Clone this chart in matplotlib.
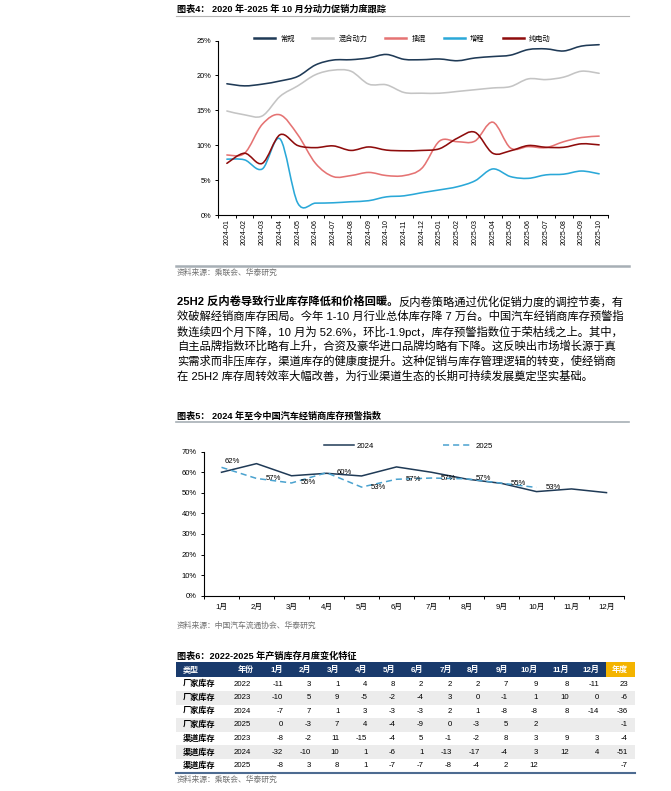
import numpy as np
import matplotlib
matplotlib.use("Agg")
import matplotlib.pyplot as plt
from matplotlib.path import Path
from matplotlib.patches import PathPatch, Rectangle
from matplotlib.lines import Line2D
from matplotlib.ticker import FuncFormatter

plt.rcParams['font.family'] = ['Liberation Sans', 'Noto Sans CJK SC']
plt.rcParams['axes.unicode_minus'] = False

W, H = 671, 791

# ---------------------------------------------------------------------------
# Data
# ---------------------------------------------------------------------------
months_1 = ["2024-01", "2024-02", "2024-03", "2024-04", "2024-05", "2024-06",
            "2024-07", "2024-08", "2024-09", "2024-10", "2024-11", "2024-12",
            "2025-01", "2025-02", "2025-03", "2025-04", "2025-05", "2025-06",
            "2025-07", "2025-08", "2025-09", "2025-10"]
conventional = [18.8, 18.5, 18.75, 19.2, 19.85, 21.5, 22.2, 22.25, 22.5, 23.0, 22.3,
                22.25, 22.35, 22.1, 22.5, 22.7, 22.9, 23.7, 23.8, 23.5, 24.2, 24.4]
hybrid = [14.9, 14.35, 14.2, 17.0, 18.5, 20.1, 20.75, 20.6, 18.75, 18.65, 17.55,
          17.45, 17.45, 17.7, 17.95, 18.2, 18.4, 19.5, 19.4, 19.75, 20.6, 20.3]
phev = [8.6, 8.85, 13.0, 14.35, 11.5, 7.4, 5.5, 5.65, 6.1, 5.65, 5.65,
        6.7, 10.6, 10.5, 10.6, 13.3, 9.6, 9.8, 9.65, 10.5, 11.1, 11.3]
erev = [8.0, 7.9, 6.6, 10.9, 1.7, 1.7, 1.75, 1.9, 2.05, 2.6, 2.75,
        3.2, 3.6, 4.05, 4.9, 6.6, 5.5, 5.25, 5.75, 5.85, 6.3, 5.9]
bev = [7.4, 8.85, 7.4, 11.5, 9.95, 9.65, 9.9, 9.25, 9.75, 9.3, 9.2,
       9.25, 9.5, 11.0, 11.85, 8.85, 9.2, 9.95, 9.7, 9.7, 10.2, 10.05]
series_1 = ["常规", "混合动力", "插混", "增程", "纯电动"]

months_2 = ["1月", "2月", "3月", "4月", "5月", "6月", "7月", "8月", "9月", "10月", "11月", "12月"]
index_2024 = [60.0, 64.2, 58.3, 59.5, 58.2, 62.6, 60.0, 56.7, 54.6, 50.6, 51.9, 50.1]
index_2025 = [62.4, 57.0, 54.8, 59.8, 52.8, 56.6, 57.2, 56.8, 54.7, 52.6]

table_header = ["类型", "年份", "1月", "2月", "3月", "4月", "5月", "6月", "7月",
                "8月", "9月", "10月", "11月", "12月", "年度"]
row_types = ["厂家库存", "厂家库存", "厂家库存", "厂家库存", "渠道库存", "渠道库存", "渠道库存"]
row_years = ["2022", "2023", "2024", "2025", "2023", "2024", "2025"]
row_values = [
    [-11, 3, 1, 4, 8, 2, 2, 2, 7, 9, 8, -11, 23],
    [-10, 5, 9, -5, -2, -4, 3, 0, -1, 1, 10, 0, -6],
    [-7, 7, 1, 3, -3, -3, 2, 1, -8, -8, 8, -14, -36],
    [0, -3, 7, 4, -4, -9, 0, -3, 5, 2, None, None, -1],
    [-8, -2, 11, -15, -4, 5, -1, -2, 8, 3, 9, 3, -4],
    [-32, -10, 10, 1, -6, 1, -13, -17, -4, 3, 12, 4, -51],
    [-8, 3, 8, 1, -7, -7, -8, -4, 2, 12, None, None, -7],
]

paragraph = [
    "效破解经销商库存困局。今年 1-10 月行业总体库存降 7 万台。中国汽车经销商库存预警指",
    "数连续四个月下降，10 月为 52.6%，环比-1.9pct，库存预警指数位于荣枯线之上。其中，",
    "自主品牌指数环比略有上升，合资及豪华进口品牌均略有下降。这反映出市场增长源于真",
    "实需求而非压库存，渠道库存的健康度提升。这种促销与库存管理逻辑的转变，使经销商",
    "在 25H2 库存周转效率大幅改善，为行业渠道生态的长期可持续发展奠定坚实基础。",
]
para_bold = "25H2 反内卷导致行业库存降低和价格回暖。"
para_first = "反内卷策略通过优化促销力度的调控节奏，有"


def px_axes(fig, left, top, right, bottom):
    return fig.add_axes([left / W, 1 - bottom / H, (right - left) / W, (bottom - top) / H])


def smooth_path(ys):
    pts = np.column_stack([np.arange(len(ys)), np.asarray(ys, float)])
    n = len(pts)
    verts, codes = [pts[0]], [Path.MOVETO]
    for i in range(n - 1):
        p0, p1 = pts[max(i - 1, 0)], pts[i]
        p2, p3 = pts[i + 1], pts[min(i + 2, n - 1)]
        verts += [p1 + (p2 - p0) / 6, p2 - (p3 - p1) / 6, p2]
        codes += [Path.CURVE4] * 3
    return Path(verts, codes)


fig = plt.figure(figsize=(W / 100, H / 100), dpi=100)
fig.patch.set_facecolor("white")

page = fig.add_axes([0, 0, 1, 1])
page.set_xlim(0, W)
page.set_ylim(H, 0)
page.axis("off")

# ---------------------------------------------------------------------------
# Chart 4
# ---------------------------------------------------------------------------
page.text(177, 9, "图表4： 2020 年-2025 年 10 月分动力促销力度跟踪", fontsize=6.6,
          fontweight="bold", va="center", ha="left")
page.plot([176, 629], [15.5, 15.5], color="#b4b4b4", lw=0.8)

ax1 = px_axes(fig, 218, 40.5, 608, 215)
colors_1 = ["#1f3a56", "#c4c4c4", "#e57373", "#2aa8d8", "#8e0c0c"]
for vals, c in zip([conventional, hybrid, phev, erev, bev], colors_1):
    ax1.add_patch(PathPatch(smooth_path(vals), fill=False, edgecolor=c, lw=1.15,
                            joinstyle="round", capstyle="round"))
ax1.set_xlim(-0.5, len(months_1) - 0.5)
ax1.set_ylim(0, 25)
ax1.set_yticks(np.arange(0, 26, 5))
ax1.yaxis.set_major_formatter(FuncFormatter(lambda v, p: f"{v:.0f}%"))
ax1.set_xticks(np.arange(-0.5, len(months_1), 1))
ax1.set_xticklabels([])
ax1.set_xticks(np.arange(len(months_1)), minor=True)
ax1.set_xticklabels(months_1, minor=True, rotation=90)
ax1.tick_params(axis="x", which="minor", length=0, labelsize=5, pad=3)
ax1.tick_params(axis="x", which="major", length=2.5, width=0.7, direction="out")
ax1.tick_params(axis="y", length=2.5, width=0.7, labelsize=5.3, pad=2.5)
for s in ["top", "right"]:
    ax1.spines[s].set_visible(False)
for s in ["left", "bottom"]:
    ax1.spines[s].set_linewidth(0.8)
handles = [Line2D([], [], color=c, lw=1.8) for c in colors_1]
ax1.legend(handles, series_1, ncol=5, loc="center left", bbox_to_anchor=(0.092, 1.01),
           frameon=False, fontsize=5.2, handlelength=2.9, handletextpad=0.7,
           columnspacing=2.5, borderpad=0, borderaxespad=0)

page.plot([176, 629], [265.7, 265.7], color="#a7afb5", lw=1.8)
page.text(177, 273, "资料来源：乘联会、华泰研究", fontsize=5.6, color="#707070", va="center")

# ---------------------------------------------------------------------------
# Paragraph
# ---------------------------------------------------------------------------
renderer = fig.canvas.get_renderer()
pfs = 8.15
t = page.text(177, 301.5, para_bold, fontsize=pfs, fontweight="bold", va="center")
bb = t.get_window_extent(renderer)
page.text(177 + bb.width, 301.5, para_first, fontsize=pfs, va="center")
for i, line in enumerate(paragraph):
    page.text(177, 316.5 + 15 * i, line, fontsize=pfs, va="center")

# ---------------------------------------------------------------------------
# Chart 5
# ---------------------------------------------------------------------------
page.text(177, 415.7, "图表5： 2024 年至今中国汽车经销商库存预警指数", fontsize=6.6,
          fontweight="bold", va="center")
page.plot([176, 629], [421.7, 421.7], color="#a7afb5", lw=1.2)

ax2 = px_axes(fig, 204, 451.7, 624, 595.7)
x24 = np.arange(len(index_2024))
x25 = np.arange(len(index_2025))
ax2.plot(x24, index_2024, color="#1f3a56", lw=1.1, label="2024")
ax2.plot(x25, index_2025, color="#4aa2cf", lw=1.1, ls=(0, (4, 2.6)), label="2025")
for i, v in enumerate(index_2025):
    off = (2, 4) if i == 0 else (7, 0)
    ax2.annotate(f"{round(v)}%", (x25[i], v), xytext=off, textcoords="offset points",
                 ha="left", va="center", fontsize=5.6)
ax2.set_xlim(-0.5, len(months_2) - 0.5)
ax2.set_ylim(0, 70)
ax2.set_yticks(np.arange(0, 71, 10))
ax2.yaxis.set_major_formatter(FuncFormatter(lambda v, p: f"{v:.0f}%"))
ax2.set_xticks(np.arange(-0.5, len(months_2), 1))
ax2.set_xticklabels([])
ax2.set_xticks(np.arange(len(months_2)), minor=True)
ax2.set_xticklabels(months_2, minor=True)
ax2.tick_params(axis="x", which="minor", length=0, labelsize=5.6, pad=6)
ax2.tick_params(axis="x", which="major", length=2.5, width=0.7, direction="out")
ax2.tick_params(axis="y", length=2.5, width=0.7, labelsize=5.5, pad=2.5)
for s in ["top", "right"]:
    ax2.spines[s].set_visible(False)
for s in ["left", "bottom"]:
    ax2.spines[s].set_linewidth(0.8)
ax2.legend(ncol=2, loc="center left", bbox_to_anchor=(0.286, 1.04), frameon=False,
           fontsize=5.6, handlelength=3.8, handletextpad=0.4, columnspacing=8.8,
           borderpad=0, borderaxespad=0)

page.text(177, 626, "资料来源：中国汽车流通协会、华泰研究", fontsize=5.6, color="#707070", va="center")

# ---------------------------------------------------------------------------
# Table 6
# ---------------------------------------------------------------------------
page.text(177, 656, "图表6：2022-2025 年产销库存月度变化特征", fontsize=6.6,
          fontweight="bold", va="center")

tbl_left, tbl_right, gold_left = 176, 635, 606
head_top, head_h, row_h = 662.3, 15, 13.6
col_right = [283.3, 311.3, 339.3, 367.3, 395.3, 423.3, 451.7, 479.7, 508, 538, 569, 599, 628]

page.add_patch(Rectangle((tbl_left, head_top), gold_left - tbl_left, head_h,
                         color="#193a6c", lw=0))
page.add_patch(Rectangle((gold_left, head_top), tbl_right - gold_left, head_h,
                         color="#f4b400", lw=0))
hy = head_top + head_h / 2
hkw = dict(fontsize=5.8, fontweight="bold", color="white", va="center")
page.text(183, hy, table_header[0], ha="left", **hkw)
page.text(246, hy, table_header[1], ha="center", **hkw)
for xr, lab in zip(col_right, table_header[2:]):
    page.text(xr, hy, lab, ha="right", **hkw)

body_top = head_top + head_h
for r, (typ, yr, vals) in enumerate(zip(row_types, row_years, row_values)):
    y0 = body_top + r * row_h
    if r % 2 == 1:
        page.add_patch(Rectangle((tbl_left, y0), tbl_right - tbl_left, row_h,
                                 color="#ececec", lw=0))
    yc = y0 + row_h / 2
    page.text(183, yc, typ, ha="left", va="center", fontsize=5.9, fontweight="bold")
    page.text(242, yc, yr, ha="center", va="center", fontsize=5.6)
    for xr, v in zip(col_right, vals):
        if v is not None:
            page.text(xr, yc, str(v), ha="right", va="center", fontsize=5.6)

bottom_y = body_top + len(row_types) * row_h
page.plot([tbl_left, tbl_right], [bottom_y, bottom_y], color="#4d6b91", lw=1.5)
page.text(177, 780, "资料来源：乘联会、华泰研究", fontsize=5.6, color="#707070", va="center")

fig.savefig("out.png", dpi=100, facecolor="white")
